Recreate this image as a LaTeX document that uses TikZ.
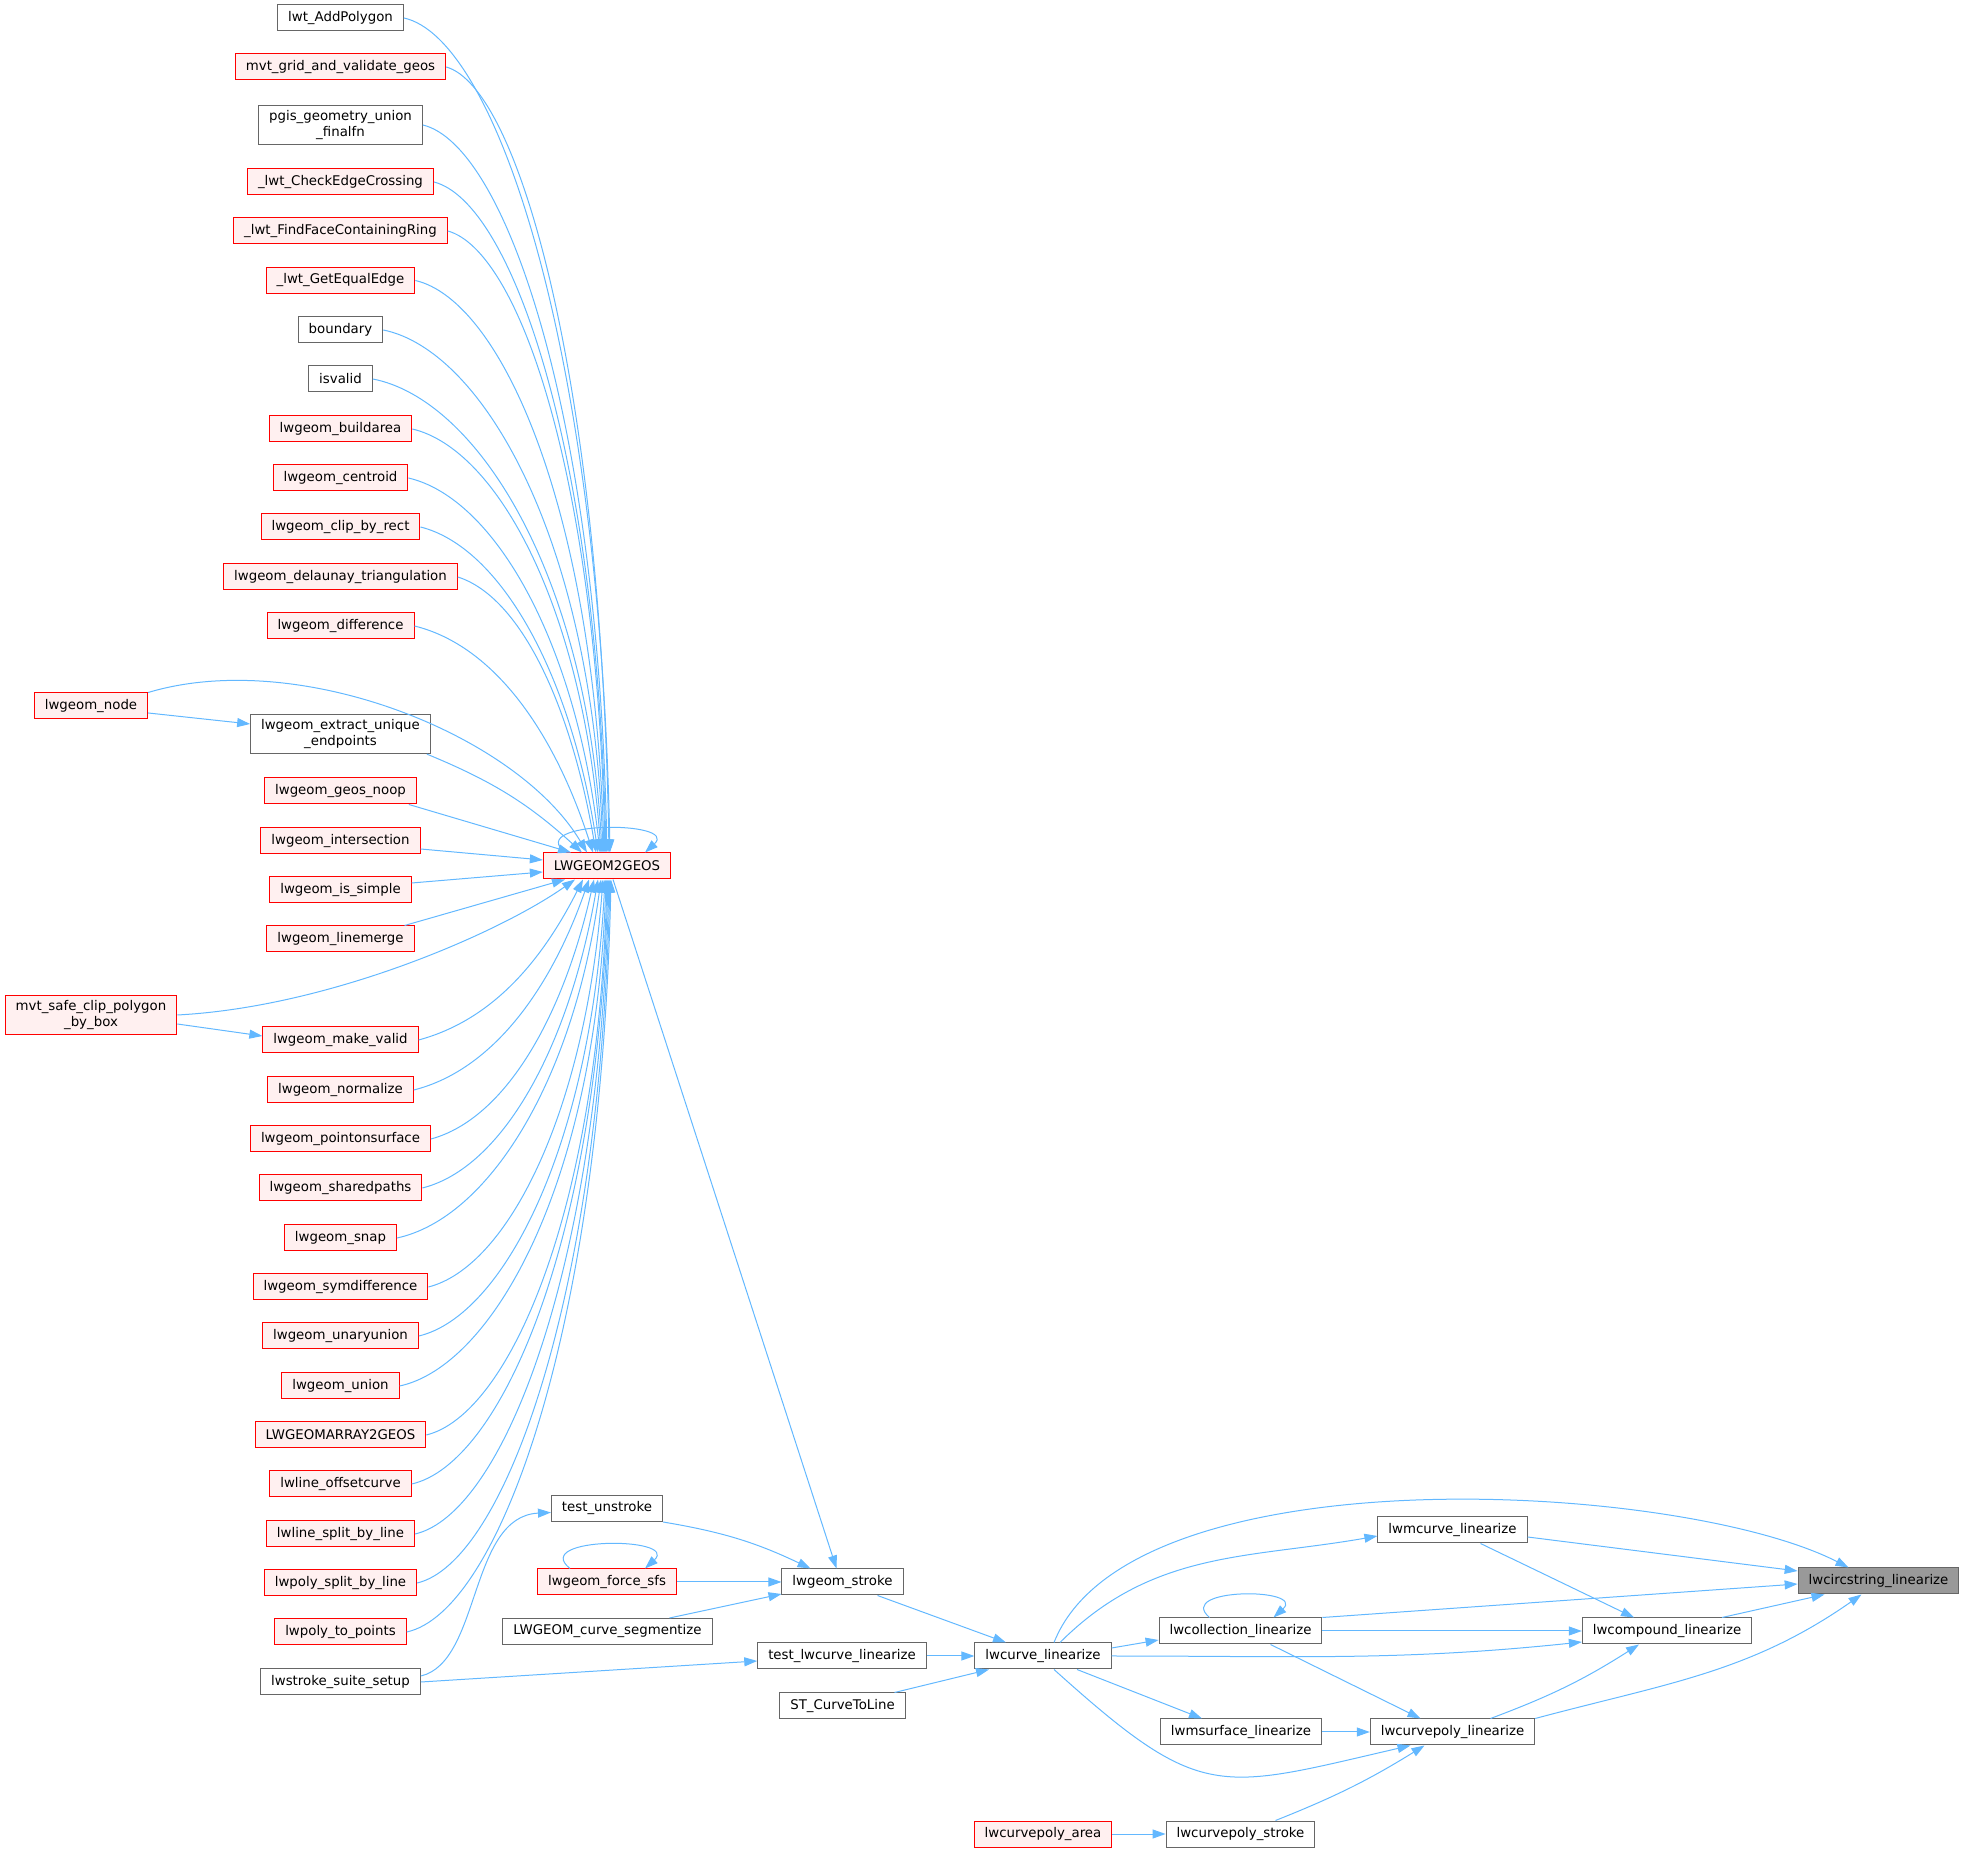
\documentclass[tikz,border=0pt]{standalone}
\usepackage{fontspec}
\setmainfont{DejaVu Sans}
\usetikzlibrary{arrows.meta}
\definecolor{EdgeBlue}{HTML}{63B8FF}
\definecolor{NodeRed}{HTML}{FF0000}
\definecolor{RedFill}{HTML}{FFF0F0}
\definecolor{NodeGray}{HTML}{666666}
\definecolor{RootFill}{HTML}{999999}
\tikzset{
  fnbox/.style={draw=NodeGray,fill=white,line width=1pt,inner xsep=10.5pt,
    inner ysep=5pt,minimum height=26pt,align=center,
    font=\fontsize{13.33}{16}\selectfont},
  fnred/.style={fnbox,draw=NodeRed,fill=RedFill},
  fnroot/.style={fnbox,fill=RootFill},
  calledge/.style={-{Triangle[length=13pt,width=9pt]},
    line width=1pt,draw=EdgeBlue},
}

\begin{document}
\begin{tikzpicture}[x=1pt,y=1pt]
\useasboundingbox (0,0) rectangle (1964,1852);
% callers of LWGEOM2GEOS
\node[fnbox] (addpoly) at (340.5,1834) {lwt\_AddPolygon};
\node[fnred] (mvtgrid) at (340.5,1785) {mvt\_grid\_and\_validate\_geos};
\node[fnbox] (pgis) at (340.5,1727) {pgis\_geometry\_union\\\_finalfn};
\node[fnred] (checkedge) at (340.5,1670) {\_lwt\_CheckEdgeCrossing};
\node[fnred] (findface) at (340.5,1621) {\_lwt\_FindFaceContainingRing};
\node[fnred] (getequal) at (340.5,1571.5) {\_lwt\_GetEqualEdge};
\node[fnbox] (boundary) at (340.5,1522) {boundary};
\node[fnbox] (isvalid) at (340.5,1473) {isvalid};
\node[fnred] (buildarea) at (340.5,1423) {lwgeom\_buildarea};
\node[fnred] (centroid) at (340.5,1374) {lwgeom\_centroid};
\node[fnred] (cliprect) at (340.5,1325) {lwgeom\_clip\_by\_rect};
\node[fnred] (delaunay) at (340.5,1275) {lwgeom\_delaunay\_triangulation};
\node[fnred] (difference) at (340.5,1226) {lwgeom\_difference};
\node[fnred] (lwgeomnode) at (91,1146) {lwgeom\_node};
\node[fnbox] (extract) at (340.5,1118) {lwgeom\_extract\_unique\\\_endpoints};
\node[fnred] (geosnoop) at (340.5,1061) {lwgeom\_geos\_noop};
\node[fnred] (intersect) at (340.5,1011) {lwgeom\_intersection};
\node[fnred] (issimple) at (340.5,962) {lwgeom\_is\_simple};
\node[fnred] (linemerge) at (340.5,913) {lwgeom\_linemerge};
\node[fnred] (mvtsafe) at (91,837) {mvt\_safe\_clip\_polygon\\\_by\_box};
\node[fnred] (makevalid) at (340.5,812) {lwgeom\_make\_valid};
\node[fnred] (normalize) at (340.5,762) {lwgeom\_normalize};
\node[fnred] (pointsurf) at (340.5,713) {lwgeom\_pointonsurface};
\node[fnred] (sharedpaths) at (340.5,664) {lwgeom\_sharedpaths};
\node[fnred] (snap) at (340.5,614) {lwgeom\_snap};
\node[fnred] (symdiff) at (340.5,565) {lwgeom\_symdifference};
\node[fnred] (unaryunion) at (340.5,516) {lwgeom\_unaryunion};
\node[fnred] (union) at (340.5,466) {lwgeom\_union};
\node[fnred] (arraygeos) at (340.5,417) {LWGEOMARRAY2GEOS};
\node[fnred] (offsetcurve) at (340.5,368) {lwline\_offsetcurve};
\node[fnred] (linesplit) at (340.5,318) {lwline\_split\_by\_line};
\node[fnred] (polysplit) at (340.5,269) {lwpoly\_split\_by\_line};
\node[fnred] (polypoints) at (340.5,220) {lwpoly\_to\_points};
\node[fnbox] (suitesetup) at (340.5,170) {lwstroke\_suite\_setup};
\node[fnred] (g2g) at (607,986) {LWGEOM2GEOS};
% stroke / linearize chain
\node[fnbox] (testunstroke) at (607,343.5) {test\_unstroke};
\node[fnred] (forcesfs) at (607,270) {lwgeom\_force\_sfs};
\node[fnbox] (segmentize) at (607.5,220.5) {LWGEOM\_curve\_segmentize};
\node[fnbox] (stroke) at (842.5,270) {lwgeom\_stroke};
\node[fnbox] (testlwcurve) at (842,196) {test\_lwcurve\_linearize};
\node[fnbox] (curvetoline) at (842.5,146) {ST\_CurveToLine};
\node[fnbox] (lwcurve) at (1043,196) {lwcurve\_linearize};
\node[fnred] (polyarea) at (1043,18) {lwcurvepoly\_area};
\node[fnbox] (collection) at (1240.5,221) {lwcollection\_linearize};
\node[fnbox] (msurface) at (1241,120) {lwmsurface\_linearize};
\node[fnbox] (polystroke) at (1240.5,18) {lwcurvepoly\_stroke};
\node[fnbox] (mcurve) at (1452.5,322) {lwmcurve\_linearize};
\node[fnbox] (polylin) at (1452.5,120) {lwcurvepoly\_linearize};
\node[fnbox] (compound) at (1667,221) {lwcompound\_linearize};
\node[fnroot] (circstring) at (1878.5,271) {lwcircstring\_linearize};

% edges into LWGEOM2GEOS from above
\draw[calledge] (addpoly.east) .. controls +(93,-20) and +(-10,501) .. ([xshift=3pt]g2g.north);
\draw[calledge] (mvtgrid.east) .. controls +(73,-20) and +(-8,472) .. ([xshift=2pt]g2g.north);
\draw[calledge] (pgis.east) .. controls +(83,-20) and +(-9,437) .. (g2g.north);
\draw[calledge] (checkedge.east) .. controls +(78,-20) and +(-9,403) .. ([xshift=-1pt]g2g.north);
\draw[calledge] (findface.east) .. controls +(72,-20) and +(-8,373) .. ([xshift=-2pt]g2g.north);
\draw[calledge] (getequal.east) .. controls +(86,-20) and +(-10,344) .. ([xshift=-3pt]g2g.north);
\draw[calledge] (boundary.east) .. controls +(99,-20) and +(-11,314) .. ([xshift=-4pt]g2g.north);
\draw[calledge] (isvalid.east) .. controls +(103,-20) and +(-15,281) .. ([xshift=-5pt]g2g.north);
\draw[calledge] (buildarea.east) .. controls +(85,-20) and +(-18,245) .. ([xshift=-6pt]g2g.north);
\draw[calledge] (centroid.east) .. controls +(86,-20) and +(-24,211) .. ([xshift=-7pt]g2g.north);
\draw[calledge] (cliprect.east) .. controls +(80,-20) and +(-27,179) .. ([xshift=-9pt]g2g.north);
\draw[calledge] (delaunay.east) .. controls +(63,-20) and +(-25,147) .. ([xshift=-11pt]g2g.north);
\draw[calledge] (difference.east) .. controls +(81,-20) and +(-38,118) .. ([xshift=-14pt]g2g.north);
\draw[calledge] (lwgeomnode.north east) .. controls +(150,45) and +(-70,118) .. ([xshift=-20pt]g2g.north);
\draw[calledge] ([xshift=-4pt]extract.south east) to[bend left=10] ([xshift=-25pt]g2g.north);
\draw[calledge] ([xshift=-8pt]geosnoop.south east) -- ([xshift=-36pt]g2g.north);
\draw[calledge] ([yshift=-8pt]intersect.east) -- ([yshift=6pt]g2g.west);
\draw[calledge] ([yshift=7pt]issimple.east) -- ([yshift=-6pt]g2g.west);
% edges into LWGEOM2GEOS from below
\draw[calledge] ([xshift=-10pt]linemerge.north east) -- ([xshift=-42pt]g2g.south);
\draw[calledge] (mvtsafe.east) .. controls +(153,8) and +(-75,-53) .. ([xshift=-32pt]g2g.south);
\draw[calledge] (makevalid.east) .. controls +(74,20) and +(-41,-81) .. ([xshift=-24pt]g2g.south);
\draw[calledge] (normalize.east) .. controls +(79,20) and +(-38,-109) .. ([xshift=-18pt]g2g.south);
\draw[calledge] (pointsurf.east) .. controls +(74,20) and +(-31,-138) .. ([xshift=-13pt]g2g.south);
\draw[calledge] (sharedpaths.east) .. controls +(80,20) and +(-29,-168) .. ([xshift=-9pt]g2g.south);
\draw[calledge] (snap.east) .. controls +(92,20) and +(-27,-200) .. ([xshift=-6pt]g2g.south);
\draw[calledge] (symdiff.east) .. controls +(79,20) and +(-18,-234) .. ([xshift=-4pt]g2g.south);
\draw[calledge] (unaryunion.east) .. controls +(84,20) and +(-14,-268) .. ([xshift=-2pt]g2g.south);
\draw[calledge] (union.east) .. controls +(93,20) and +(-10,-304) .. ([xshift=-1pt]g2g.south);
\draw[calledge] (arraygeos.east) .. controls +(82,20) and +(-9,-334) .. (g2g.south);
\draw[calledge] (offsetcurve.east) .. controls +(89,20) and +(-10,-363) .. ([xshift=1pt]g2g.south);
\draw[calledge] (linesplit.east) .. controls +(87,20) and +(-10,-393) .. ([xshift=2pt]g2g.south);
\draw[calledge] (polysplit.east) .. controls +(86,20) and +(-10,-422) .. ([xshift=3pt]g2g.south);
\draw[calledge] (polypoints.east) .. controls +(92,20) and +(-10,-452) .. ([xshift=4pt]g2g.south);
\draw[calledge] ([xshift=-42pt]g2g.north) .. controls +(-40,32) and +(35,32) .. ([xshift=38pt]g2g.north);
% side calls
\draw[calledge] ([yshift=-7pt]lwgeomnode.east) -- ([yshift=10pt]extract.west);
\draw[calledge] ([yshift=-9pt]mvtsafe.east) -- ([yshift=4pt]makevalid.west);
\draw[calledge] ([yshift=6pt]suitesetup.east) .. controls +(60,14) and +(-82,-4) .. ([yshift=-4pt]testunstroke.west);
\draw[calledge] (suitesetup.east) -- ([yshift=-5pt]testlwcurve.west);
% into lwgeom_stroke
\draw[calledge] ([xshift=6pt]g2g.south) -- ([xshift=-6pt]stroke.north);
\draw[calledge] (testunstroke.south east) to[bend left=8] ([xshift=-32pt]stroke.north);
\draw[calledge] (forcesfs.east) -- (stroke.west);
\draw[calledge] ([xshift=-37pt]forcesfs.north) .. controls +(-40,32) and +(35,32) .. ([xshift=38pt]forcesfs.north);
\draw[calledge] ([xshift=62pt]segmentize.north) -- ([yshift=-12pt]stroke.west);
% into lwcurve_linearize
\draw[calledge] ([xshift=35pt]stroke.south) -- ([xshift=-37pt]lwcurve.north);
\draw[calledge] (testlwcurve.east) -- (lwcurve.west);
\draw[calledge] ([xshift=52pt]curvetoline.north) -- ([xshift=-54pt]lwcurve.south);
% out of lwcurve_linearize
\draw[calledge] ([yshift=8pt]lwcurve.east) -- ([yshift=-9pt]collection.west);
\draw[calledge] (lwcurve.east) to[out=0,in=186] ([yshift=-11pt]compound.west);
\draw[calledge] ([xshift=17pt]lwcurve.north) to[out=45,in=190] ([yshift=-6pt]mcurve.west);
\draw[calledge] ([xshift=11pt]lwcurve.north) .. controls +(76,192) and +(-168,86) .. ([xshift=-30pt]circstring.north);
\draw[calledge] ([xshift=34pt]lwcurve.south) -- ([xshift=-39pt]msurface.north);
\draw[calledge] ([xshift=11pt]lwcurve.south) to[out=-42,in=193,looseness=1.4] ([xshift=-42pt]polylin.south);
% collection, surface, curvepoly
\draw[calledge] ([xshift=-31pt]collection.north) .. controls +(-35,30) and +(33,30) .. ([xshift=33pt]collection.north);
\draw[calledge] (collection.north east) -- ([yshift=-3pt]circstring.west);
\draw[calledge] (collection.east) -- (compound.west);
\draw[calledge] ([xshift=30pt]collection.south) -- ([xshift=-32pt]polylin.north);
\draw[calledge] (msurface.east) -- (polylin.west);
\draw[calledge] ([xshift=35pt]polystroke.north) to[bend right=5] ([xshift=-28pt]polylin.south);
\draw[calledge] (polyarea.east) -- (polystroke.west);
% into lwcompound / lwcircstring
\draw[calledge] ([yshift=-7pt]mcurve.east) -- ([yshift=10pt]circstring.west);
\draw[calledge] ([xshift=28pt]mcurve.south) -- ([xshift=-33pt]compound.north);
\draw[calledge] ([xshift=38pt]polylin.north) to[bend right=6] ([xshift=-28pt]compound.south);
\draw[calledge] (polylin.north east) to[out=15,in=215] ([xshift=-17pt]circstring.south);
\draw[calledge] ([xshift=55pt]compound.north) -- ([xshift=-54pt]circstring.south);
\end{tikzpicture}
\end{document}
